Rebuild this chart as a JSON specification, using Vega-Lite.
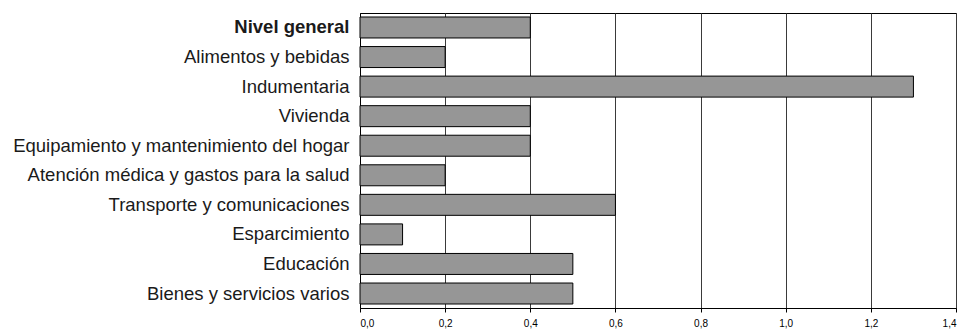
{
  "$schema": "https://vega.github.io/schema/vega-lite/v6.json",
  "width": 596,
  "height": 295,
  "autosize": {"type": "none"},
  "padding": {"left": 360, "top": 13, "right": 8, "bottom": 21},
  "background": "white",
  "config": {
    "view": {"stroke": "#000000", "strokeWidth": 1},
    "font": "Liberation Sans"
  },
  "data": {
    "values": [
      {"rubro": "Nivel general", "valor": 0.4},
      {"rubro": "Alimentos y bebidas", "valor": 0.2},
      {"rubro": "Indumentaria", "valor": 1.3},
      {"rubro": "Vivienda", "valor": 0.4},
      {"rubro": "Equipamiento y mantenimiento del hogar", "valor": 0.4},
      {"rubro": "Atención médica y gastos para la salud", "valor": 0.2},
      {"rubro": "Transporte y comunicaciones", "valor": 0.6},
      {"rubro": "Esparcimiento", "valor": 0.1},
      {"rubro": "Educación", "valor": 0.5},
      {"rubro": "Bienes y servicios varios", "valor": 0.5}
    ]
  },
  "mark": {"type": "bar", "fill": "#969696", "stroke": "#000000", "strokeWidth": 1},
  "encoding": {
    "y": {
      "field": "rubro",
      "type": "nominal",
      "sort": null,
      "scale": {"paddingInner": 0.29, "paddingOuter": 0.135},
      "axis": {
        "title": null,
        "ticks": false,
        "domain": true,
        "domainColor": "#000000",
        "labelFont": "Liberation Sans",
        "labelFontSize": 18.5,
        "labelColor": "#1a1a1a",
        "labelPadding": 11,
        "labelLimit": 400,
        "labelFontWeight": {"condition": {"test": "datum.value == 'Nivel general'", "value": "bold"}, "value": "normal"}
      }
    },
    "x": {
      "field": "valor",
      "type": "quantitative",
      "scale": {"domain": [0, 1.4], "nice": false},
      "axis": {
        "title": null,
        "values": [0, 0.2, 0.4, 0.6, 0.8, 1.0, 1.2, 1.4],
        "labelExpr": "replace(format(datum.value, '.1f'), '.', ',')",
        "labelFont": "Liberation Sans",
        "labelFontSize": 10,
        "labelColor": "#000000",
        "labelPadding": 6,
        "tickSize": 4,
        "tickColor": "#000000",
        "domainColor": "#000000",
        "grid": true,
        "gridColor": "#3a3a3a",
        "gridWidth": 1
      }
    }
  }
}
